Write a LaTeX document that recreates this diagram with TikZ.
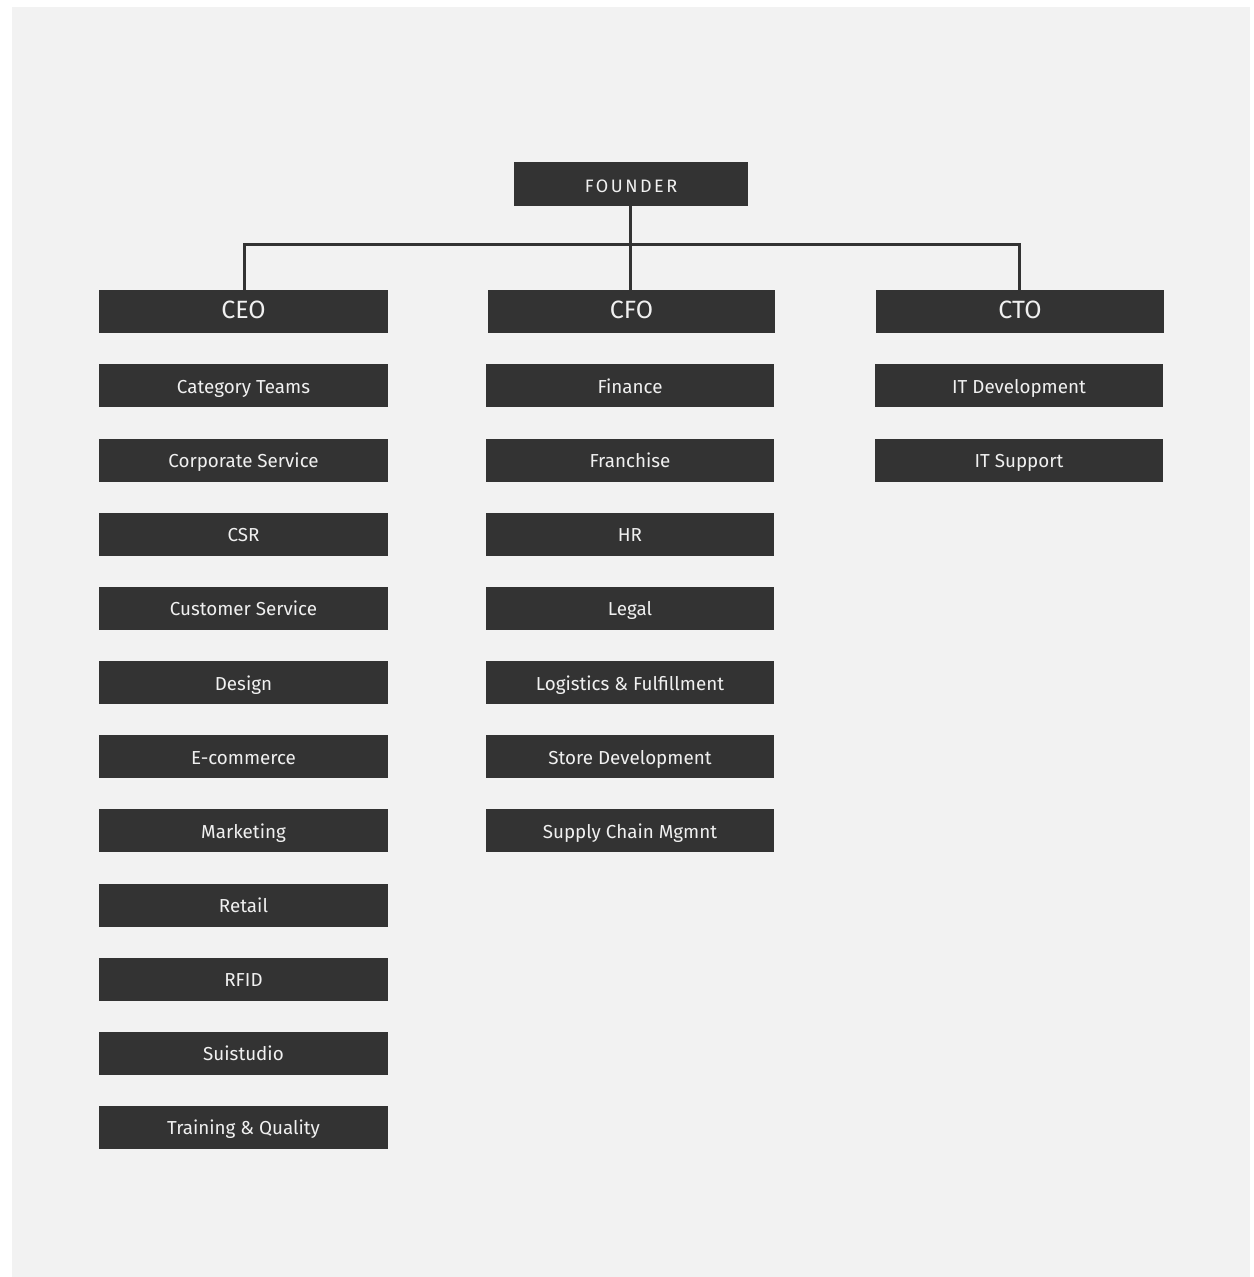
\documentclass[tikz,border=0pt]{standalone}
\usepackage{fontspec}
\setmainfont{Fira Sans}
\newfontfamily\spacedfont[LetterSpace=14]{Fira Sans}
\definecolor{bgc}{HTML}{F2F2F2}
\definecolor{boxc}{HTML}{333333}
\definecolor{txtc}{HTML}{F0F0F0}
\begin{document}
\begin{tikzpicture}[x=1pt,y=-1pt,
  box/.style={fill=boxc,text=txtc,inner sep=0pt,minimum height=43pt,minimum width=288pt,font=\fontsize{18.8}{20}\selectfont,text height=17pt,text depth=2pt},
  head/.style={box,font=\fontsize{25}{28}\selectfont,text height=18pt,text depth=5pt},
  founderbox/.style={box,minimum width=234pt,minimum height=44pt,font=\spacedfont\fontsize{18}{20}\selectfont,text height=17pt,text depth=1pt},
  link/.style={draw=boxc,line width=3pt}]
\useasboundingbox (0,0) rectangle (1253,1277);
\fill[bgc] (12,7) rectangle (1250,1277);
\node[founderbox] (founder) at (631,184) {FOUNDER};
\node[head,minimum width=289pt] (ceo) at (243.5,311.5) {CEO};
\node[head,minimum width=287pt] (cfo) at (631.5,311.5) {CFO};
\node[head] (cto) at (1020,311.5) {CTO};
\coordinate (bar) at (630,244);
\coordinate (barl) at (244,244);
\coordinate (barr) at (1019,244);
\draw[link] (founder.south -| bar) -- (bar);
\draw[link] (barl |- ceo.north) -- (barl) -- (barr) -- (barr |- cto.north);
\draw[link] (bar) -- (bar |- cfo.north);
% CEO column
\foreach \n/\t/\y in {c1/Category Teams/385.5, c2/Corporate Service/460, c3/CSR/534, c4/Customer Service/608, c5/Design/682.5, c6/E-commerce/756.5, c7/Marketing/830.5, c8/Retail/905, c9/RFID/979, c10/Suistudio/1053, c11/Training \& Quality/1127}
  \node[box,minimum width=289pt] (\n) at (243.5,\y) {\t};
% CFO column
\foreach \n/\t/\y in {f1/Finance/385.5, f2/Franchise/460, f3/HR/534, f4/Legal/608, f5/Logistics \& Fulfillment/682.5, f6/Store Development/756.5, f7/Supply Chain Mgmnt/830.5}
  \node[box] (\n) at (630,\y) {\t};
% CTO column
\node[box] (t1) at (1019,385.5) {IT Development};
\node[box] (t2) at (1019,460) {IT Support};
\end{tikzpicture}
\end{document}
